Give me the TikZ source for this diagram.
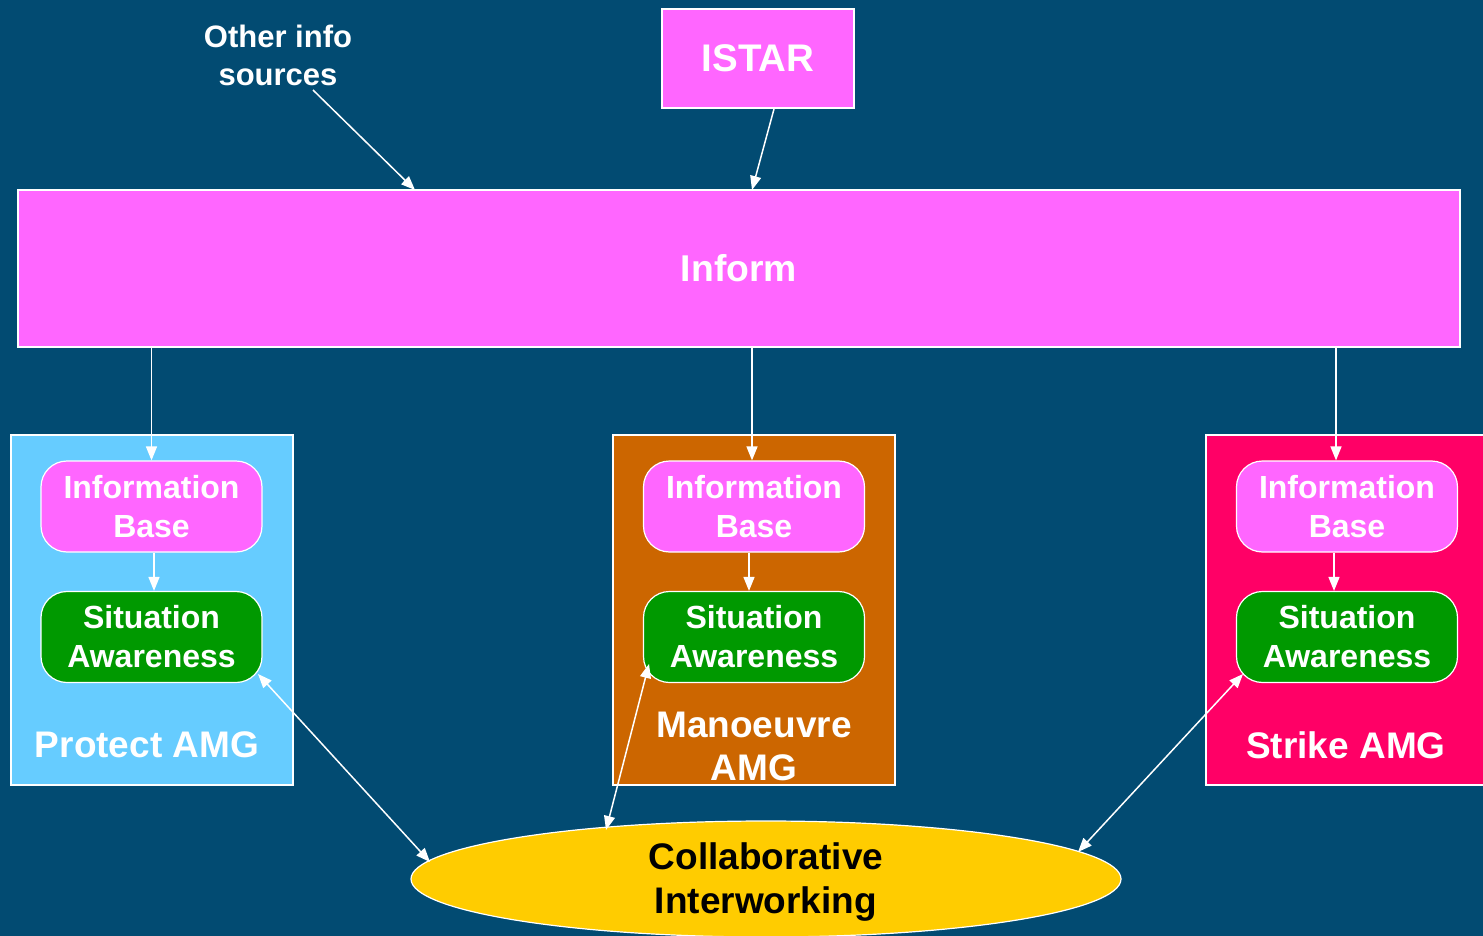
\documentclass[tikz,border=0pt]{standalone}
\usepackage{fontspec}
\setmainfont{Liberation Sans}
\usetikzlibrary{arrows.meta,shapes.geometric}
\definecolor{bg}{RGB}{2,75,114}
\definecolor{mag}{RGB}{255,102,255}
\definecolor{sky}{RGB}{102,204,255}
\definecolor{rust}{RGB}{204,102,0}
\definecolor{rose}{RGB}{255,0,102}
\definecolor{grn}{RGB}{0,153,0}
\definecolor{gold}{RGB}{255,204,0}
\tikzset{
  boxsq/.style={draw=white,line width=1.2pt,inner sep=0pt,align=center,text=white},
  grp/.style={draw=white,line width=1.2pt,inner sep=0pt,minimum width=282pt,minimum height=350pt},
  ibox/.style={draw=white,line width=1.2pt,rounded corners=26pt,minimum width=221pt,minimum height=91pt,inner sep=0pt,align=center,text=white,font=\bfseries\fontsize{32}{39}\selectfont},
  grplabel/.style={text=white,align=center,font=\bfseries\fontsize{37}{43}\selectfont},
  arr/.style={draw=white,line width=1.5pt,-{Triangle[length=14pt,width=11pt]}},
  darr/.style={draw=white,line width=1.5pt,{Triangle[length=14pt,width=11pt]}-{Triangle[length=14pt,width=11pt]}},
}
\begin{document}
\begin{tikzpicture}[x=1pt,y=-1pt]
\useasboundingbox (0,0) rectangle (1483,936);
\fill[bg] (0,0) rectangle (1483,936);
% top
\node[boxsq,fill=mag,minimum width=192pt,minimum height=99pt,font=\bfseries\fontsize{38.5}{43}\selectfont,text depth=0pt] (istar) at (758,58.5) {ISTAR};
\node[text=white,align=center,font=\bfseries\fontsize{31}{38}\selectfont] (other) at (278,55) {Other info\\sources};
\node[boxsq,fill=mag,minimum width=1442pt,minimum height=157pt,font=\bfseries\fontsize{37.3}{43}\selectfont] (inform) at (739,268.5) {Inform};
% groups
\node[grp,fill=sky] (gp) at (152,610) {};
\node[grp,fill=rust] (gm) at (754,610) {};
\node[grp,fill=rose,minimum width=290pt] (gs) at (1351,610) {};
\node[ibox,fill=mag] (ib1) at (151.5,506.5) {Information\\Base};
\node[ibox,fill=mag] (ib2) at (754,506.5) {Information\\Base};
\node[ibox,fill=mag] (ib3) at (1347,506.5) {Information\\Base};
\node[ibox,fill=grn] (sa1) at (151.5,637) {Situation\\Awareness};
\node[ibox,fill=grn] (sa2) at (754,637) {Situation\\Awareness};
\node[ibox,fill=grn] (sa3) at (1347,637) {Situation\\Awareness};
\node[grplabel] (lp) at (147,745) {Protect AMG};
\node[grplabel] (lm) at (754,746) {Manoeuvre\\AMG};
\node[grplabel] (ls) at (1346,745) {Strike AMG};
% ellipse
\node[ellipse,draw=white,line width=1.2pt,fill=gold,minimum width=710pt,minimum height=116pt,inner sep=0pt,align=center,font=\bfseries\fontsize{37}{44}\selectfont] (ci) at (766,879) {};
\node[align=center,font=\bfseries\fontsize{37}{44}\selectfont] (cit) at (766,882) {Collaborative\\Interworking};
% connectors
\coordinate (os) at (313,90);
\coordinate (oe) at (415,190);
\draw[arr] (os) -- (oe);
\coordinate (is) at (774,109);
\coordinate (ie) at (752,190);
\draw[arr] (is) -- (ie);
\draw[arr] (inform.south -| ib1.north) -- (ib1.north);
\draw[arr] (inform.south -| 752,0) -- (ib2.north -| 752,0);
\draw[arr] (inform.south -| 1336,0) -- (ib3.north -| 1336,0);
\draw[arr] (ib1.south -| 154,0) -- (sa1.north -| 154,0);
\draw[arr] (ib2.south -| 749,0) -- (sa2.north -| 749,0);
\draw[arr] (ib3.south -| 1334,0) -- (sa3.north -| 1334,0);
\coordinate (a1) at (258,674);
\coordinate (b1) at (430,862);
\coordinate (a2) at (649,664);
\coordinate (b2) at (606,830);
\coordinate (a3) at (1243,674);
\coordinate (b3) at (1078,852);
\draw[darr] (a1) -- (b1);
\draw[darr] (a2) -- (b2);
\draw[darr] (a3) -- (b3);
\end{tikzpicture}
\end{document}
